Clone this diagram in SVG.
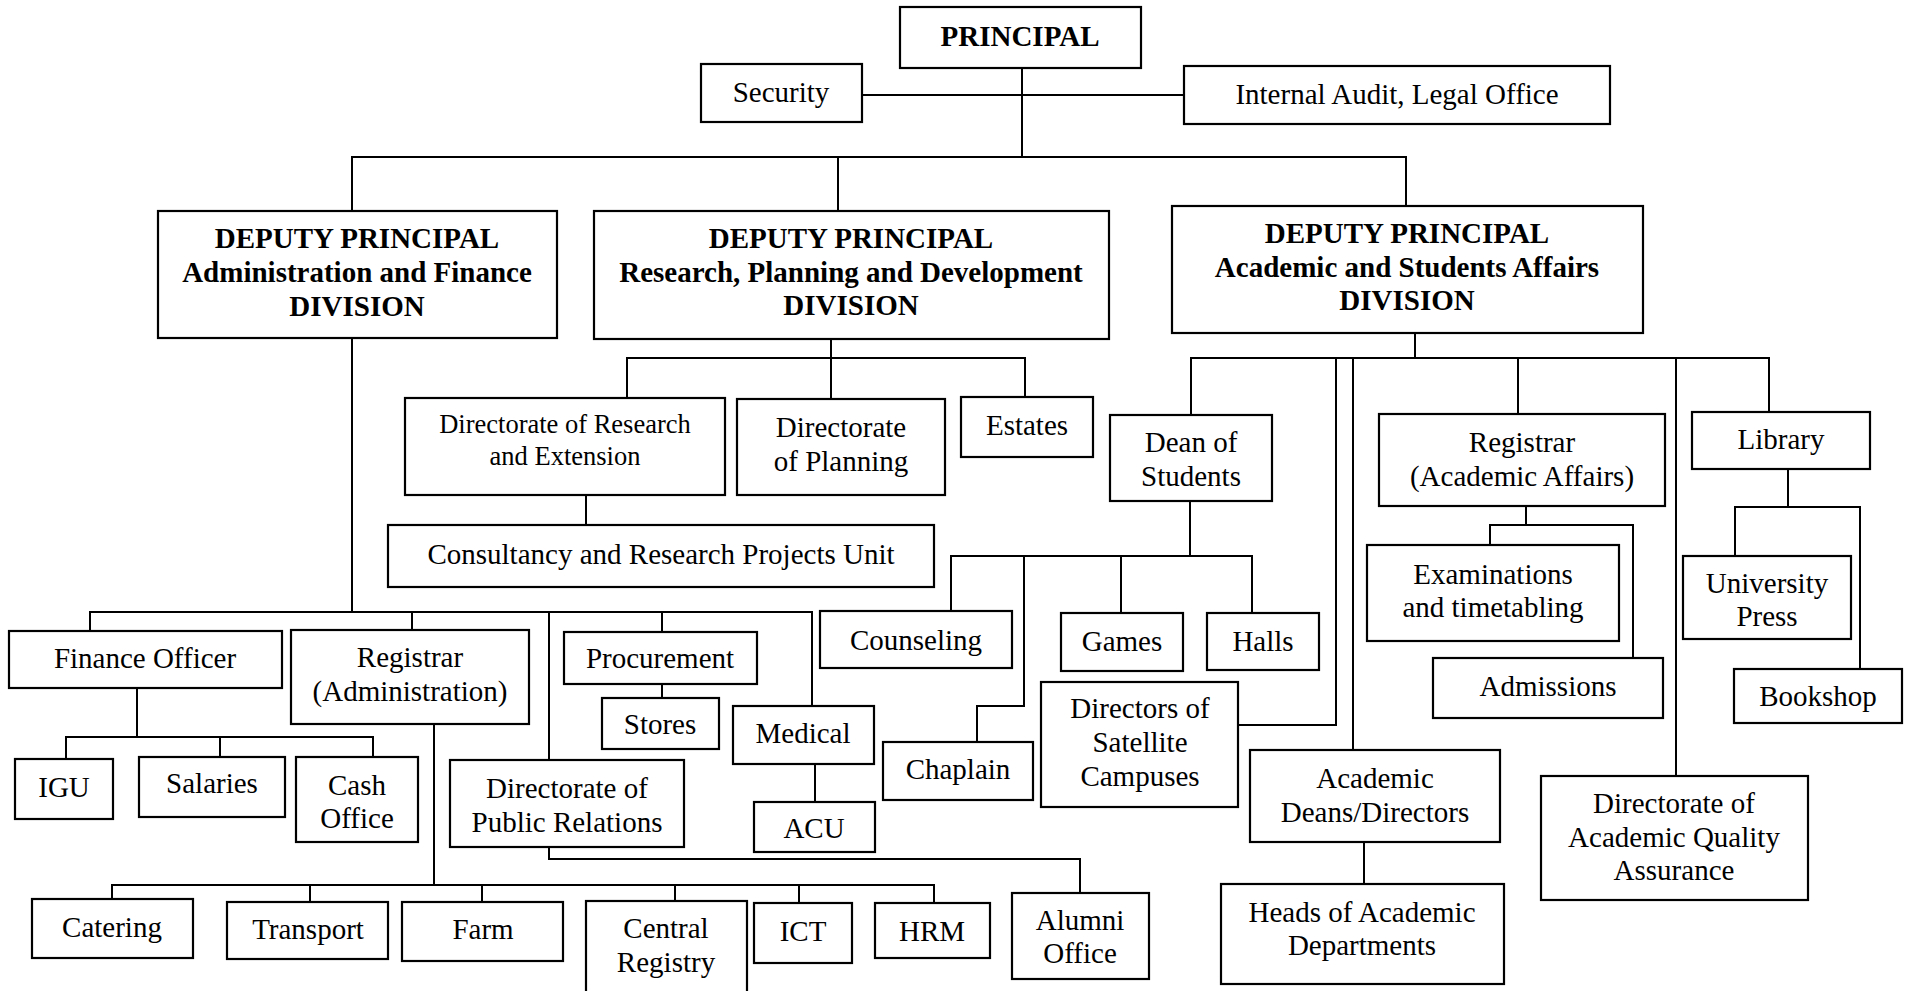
<svg xmlns="http://www.w3.org/2000/svg" width="1910" height="991" viewBox="0 0 1910 991">
  <style>
    .box { fill: #fff; stroke: #000; stroke-width: 2.2; }
    .ln { fill: none; stroke: #000; stroke-width: 2; }
    text { font-family: "Liberation Serif", "Times New Roman", serif; font-size: 29px; fill: #000; text-anchor: middle; }
    .b { font-weight: bold; }
    .sm { font-size: 26.5px; }
  </style>
  <rect x="0" y="0" width="1910" height="991" fill="#fff"/>

  <!-- connectors -->
  <g id="connectors">
    <!-- principal -->
    <polyline class="ln" points="1022,68 1022,157"/>
    <polyline class="ln" points="862,95 1184,95"/>
    <polyline class="ln" points="352,211 352,157 1406,157 1406,206"/>
    <polyline class="ln" points="838,157 838,211"/>

    <!-- research, planning and development -->
    <polyline class="ln" points="831,339 831,358"/>
    <polyline class="ln" points="627,398 627,358 1025,358 1025,397"/>
    <polyline class="ln" points="831,358 831,399"/>
    <polyline class="ln" points="586,495 586,525"/>

    <!-- administration and finance -->
    <polyline class="ln" points="352,338 352,612"/>
    <polyline class="ln" points="90,631 90,612 812,612 812,706"/>
    <polyline class="ln" points="412,612 412,630"/>
    <polyline class="ln" points="549,612 549,760"/>
    <polyline class="ln" points="662,612 662,632"/>
    <polyline class="ln" points="662,684 662,698"/>
    <polyline class="ln" points="815,764 815,802"/>
    <polyline class="ln" points="137,688 137,737"/>
    <polyline class="ln" points="66,759 66,737 373,737 373,757"/>
    <polyline class="ln" points="220,737 220,757"/>
    <polyline class="ln" points="434,724 434,885"/>
    <polyline class="ln" points="112,899 112,885 934,885 934,903"/>
    <polyline class="ln" points="310,885 310,902"/>
    <polyline class="ln" points="482,885 482,902"/>
    <polyline class="ln" points="675,885 675,900"/>
    <polyline class="ln" points="799,885 799,903"/>
    <polyline class="ln" points="549,847 549,859 1080,859 1080,893"/>

    <!-- academic and students affairs -->
    <polyline class="ln" points="1415,333 1415,358"/>
    <polyline class="ln" points="1191,415 1191,358 1769,358 1769,412"/>
    <polyline class="ln" points="1336,358 1336,725 1238,725"/>
    <polyline class="ln" points="1353,358 1353,750"/>
    <polyline class="ln" points="1518,358 1518,414"/>
    <polyline class="ln" points="1676,358 1676,776"/>
    <polyline class="ln" points="1190,501 1190,556"/>
    <polyline class="ln" points="951,611 951,556 1252,556 1252,613"/>
    <polyline class="ln" points="1121,556 1121,613"/>
    <polyline class="ln" points="1024,556 1024,706 977,706 977,742"/>
    <polyline class="ln" points="1526,506 1526,525"/>
    <polyline class="ln" points="1490,545 1490,525 1633,525 1633,658"/>
    <polyline class="ln" points="1788,469 1788,507"/>
    <polyline class="ln" points="1735,556 1735,507 1860,507 1860,669"/>
    <polyline class="ln" points="1364,842 1364,884"/>
  </g>

  <!-- top level -->
  <g id="principal"><rect class="box" x="900" y="7" width="241" height="61"/><text class="b" x="1020" y="46">PRINCIPAL</text></g>
  <g id="security"><rect class="box" x="701" y="64" width="161" height="58"/><text x="781" y="102">Security</text></g>
  <g id="internal-audit"><rect class="box" x="1184" y="66" width="426" height="58"/><text x="1397" y="104">Internal Audit, Legal Office</text></g>

  <!-- divisions -->
  <g id="dp-admin"><rect class="box" x="158" y="211" width="399" height="127"/>
    <text class="b" x="357" y="248">DEPUTY PRINCIPAL</text>
    <text class="b" x="357" y="282">Administration and Finance</text>
    <text class="b" x="357" y="316">DIVISION</text></g>
  <g id="dp-research"><rect class="box" x="594" y="211" width="515" height="128"/>
    <text class="b" x="851" y="248">DEPUTY PRINCIPAL</text>
    <text class="b" x="851" y="282">Research, Planning and Development</text>
    <text class="b" x="851" y="315">DIVISION</text></g>
  <g id="dp-academic"><rect class="box" x="1172" y="206" width="471" height="127"/>
    <text class="b" x="1407" y="243">DEPUTY PRINCIPAL</text>
    <text class="b" x="1407" y="277">Academic and Students Affairs</text>
    <text class="b" x="1407" y="310">DIVISION</text></g>

  <!-- research, planning and development -->
  <g id="dir-research"><rect class="box" x="405" y="398" width="320" height="97"/>
    <text class="sm" x="565" y="433">Directorate of Research</text>
    <text class="sm" x="565" y="465">and Extension</text></g>
  <g id="dir-planning"><rect class="box" x="737" y="399" width="208" height="96"/>
    <text x="841" y="437">Directorate</text>
    <text x="841" y="471">of Planning</text></g>
  <g id="estates"><rect class="box" x="961" y="397" width="132" height="60"/><text x="1027" y="435">Estates</text></g>
  <g id="consultancy"><rect class="box" x="388" y="525" width="546" height="62"/><text x="661" y="564">Consultancy and Research Projects Unit</text></g>

  <!-- administration and finance -->
  <g id="finance-officer"><rect class="box" x="9" y="631" width="273" height="57"/><text x="145" y="668">Finance Officer</text></g>
  <g id="registrar-admin"><rect class="box" x="291" y="630" width="238" height="94"/>
    <text x="410" y="667">Registrar</text>
    <text x="410" y="701">(Administration)</text></g>
  <g id="procurement"><rect class="box" x="564" y="632" width="193" height="52"/><text x="660" y="668">Procurement</text></g>
  <g id="stores"><rect class="box" x="602" y="698" width="117" height="51"/><text x="660" y="734">Stores</text></g>
  <g id="medical"><rect class="box" x="733" y="706" width="141" height="58"/><text x="803" y="743">Medical</text></g>
  <g id="acu"><rect class="box" x="754" y="802" width="121" height="50"/><text x="814" y="838">ACU</text></g>
  <g id="public-relations"><rect class="box" x="450" y="760" width="234" height="87"/>
    <text x="567" y="798">Directorate of</text>
    <text x="567" y="832">Public Relations</text></g>
  <g id="igu"><rect class="box" x="15" y="759" width="98" height="60"/><text x="64" y="797">IGU</text></g>
  <g id="salaries"><rect class="box" x="139" y="757" width="146" height="60"/><text x="212" y="793">Salaries</text></g>
  <g id="cash-office"><rect class="box" x="296" y="757" width="122" height="85"/>
    <text x="357" y="795">Cash</text>
    <text x="357" y="828">Office</text></g>
  <g id="catering"><rect class="box" x="32" y="899" width="161" height="59"/><text x="112" y="937">Catering</text></g>
  <g id="transport"><rect class="box" x="227" y="902" width="161" height="57"/><text x="308" y="939">Transport</text></g>
  <g id="farm"><rect class="box" x="402" y="902" width="161" height="59"/><text x="483" y="939">Farm</text></g>
  <g id="central-registry"><rect class="box" x="586" y="901" width="161" height="100"/>
    <text x="666" y="938">Central</text>
    <text x="666" y="972">Registry</text></g>
  <g id="ict"><rect class="box" x="754" y="903" width="98" height="60"/><text x="803" y="941">ICT</text></g>
  <g id="hrm"><rect class="box" x="875" y="903" width="115" height="55"/><text x="932" y="941">HRM</text></g>
  <g id="alumni"><rect class="box" x="1012" y="893" width="137" height="86"/>
    <text x="1080" y="930">Alumni</text>
    <text x="1080" y="963">Office</text></g>

  <!-- academic and students affairs -->
  <g id="dean-students"><rect class="box" x="1110" y="415" width="162" height="86"/>
    <text x="1191" y="452">Dean of</text>
    <text x="1191" y="486">Students</text></g>
  <g id="counseling"><rect class="box" x="820" y="611" width="192" height="57"/><text x="916" y="650">Counseling</text></g>
  <g id="games"><rect class="box" x="1061" y="613" width="122" height="58"/><text x="1122" y="651">Games</text></g>
  <g id="halls"><rect class="box" x="1207" y="613" width="112" height="57"/><text x="1263" y="651">Halls</text></g>
  <g id="chaplain"><rect class="box" x="883" y="742" width="150" height="58"/><text x="958" y="779">Chaplain</text></g>
  <g id="satellite"><rect class="box" x="1041" y="682" width="197" height="125"/>
    <text x="1140" y="718">Directors of</text>
    <text x="1140" y="752">Satellite</text>
    <text x="1140" y="786">Campuses</text></g>
  <g id="registrar-academic"><rect class="box" x="1379" y="414" width="286" height="92"/>
    <text x="1522" y="452">Registrar</text>
    <text x="1522" y="486">(Academic Affairs)</text></g>
  <g id="examinations"><rect class="box" x="1367" y="545" width="252" height="96"/>
    <text x="1493" y="584">Examinations</text>
    <text x="1493" y="617">and timetabling</text></g>
  <g id="admissions"><rect class="box" x="1433" y="658" width="230" height="60"/><text x="1548" y="696">Admissions</text></g>
  <g id="library"><rect class="box" x="1692" y="412" width="178" height="57"/><text x="1781" y="449">Library</text></g>
  <g id="university-press"><rect class="box" x="1683" y="556" width="168" height="83"/>
    <text x="1767" y="593">University</text>
    <text x="1767" y="626">Press</text></g>
  <g id="bookshop"><rect class="box" x="1734" y="669" width="168" height="54"/><text x="1818" y="706">Bookshop</text></g>
  <g id="academic-deans"><rect class="box" x="1250" y="750" width="250" height="92"/>
    <text x="1375" y="788">Academic</text>
    <text x="1375" y="822">Deans/Directors</text></g>
  <g id="heads-departments"><rect class="box" x="1221" y="884" width="283" height="100"/>
    <text x="1362" y="922">Heads of Academic</text>
    <text x="1362" y="955">Departments</text></g>
  <g id="quality-assurance"><rect class="box" x="1541" y="776" width="267" height="124"/>
    <text x="1674" y="813">Directorate of</text>
    <text x="1674" y="847">Academic Quality</text>
    <text x="1674" y="880">Assurance</text></g>
</svg>
